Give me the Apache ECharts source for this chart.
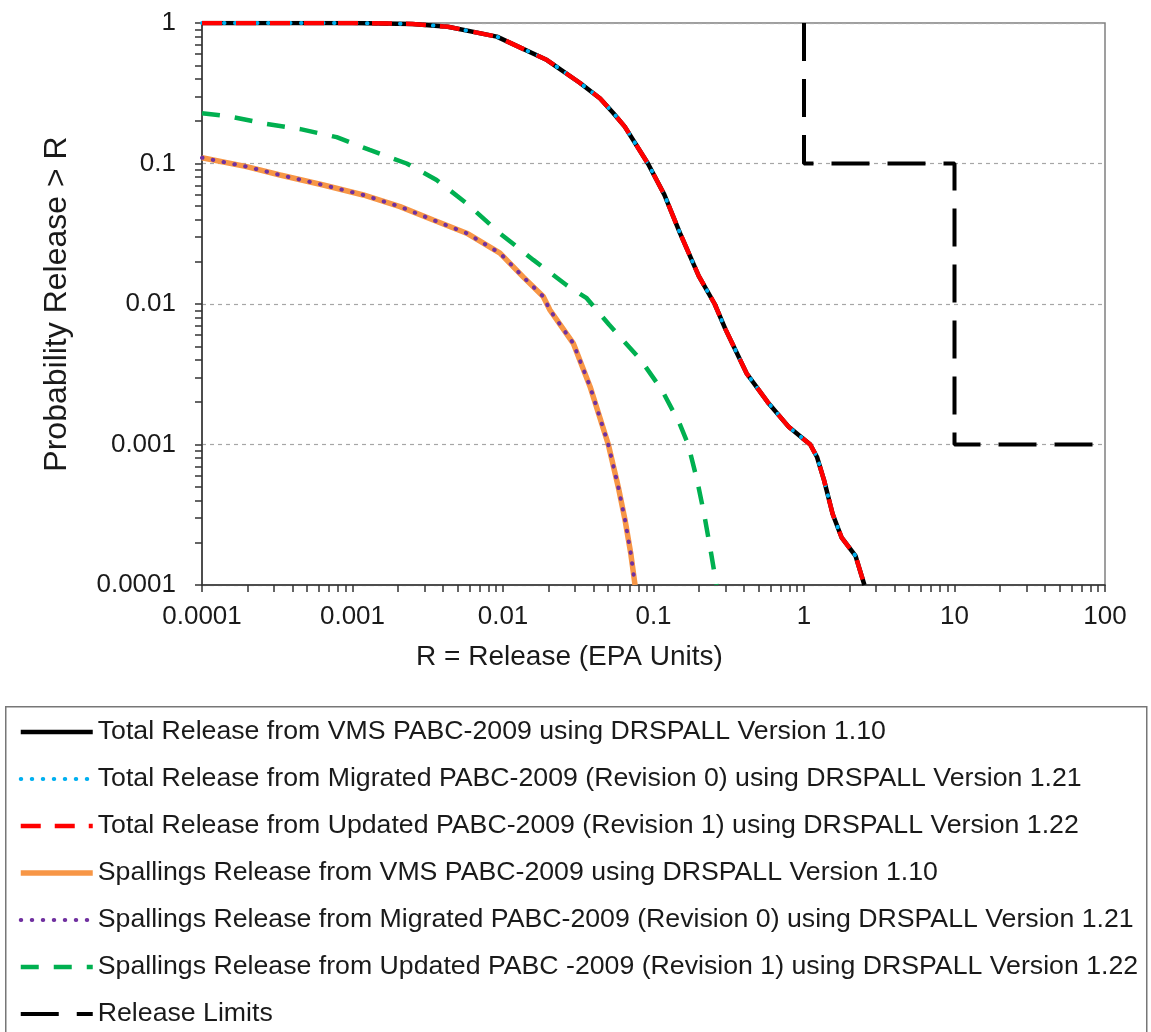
<!DOCTYPE html>
<html>
<head>
<meta charset="utf-8">
<script src="https://cdn.jsdelivr.net/npm/echarts@6/dist/echarts.min.js"></script>
<style>
html,body{margin:0;padding:0;background:#fff;}
#chart{width:1151px;height:1032px;}
</style>
</head>
<body>
<div id="chart"></div>
<script>
// ---- data ----
const totalX = [0.0001, 0.001, 0.0025, 0.0043, 0.0091, 0.0196, 0.0325, 0.0442, 0.054, 0.0644, 0.0918, 0.118, 0.15, 0.2, 0.255, 0.301, 0.416, 0.574, 0.794, 1.1, 1.22, 1.36, 1.55, 1.78, 2.2, 2.52];
const totalY = [1, 1, 0.985, 0.94, 0.80, 0.545, 0.374, 0.29, 0.229, 0.183, 0.1, 0.06, 0.032, 0.0158, 0.01, 0.0066, 0.0032, 0.002, 0.00133, 0.001, 0.000815, 0.000555, 0.00032, 0.000217, 0.000161, 0.0001];

const spallX = [0.0001, 0.000198, 0.00033, 0.00064, 0.00118, 0.00207, 0.00344, 0.00574, 0.00955, 0.0136, 0.0185, 0.0205, 0.0293, 0.0379, 0.0501, 0.0583, 0.0647, 0.0706, 0.0754];
const spallY = [0.11, 0.095, 0.0828, 0.0703, 0.0597, 0.0493, 0.0396, 0.0319, 0.023, 0.0156, 0.0113, 0.00906, 0.00525, 0.00258, 0.001, 0.0005, 0.00029, 0.000168, 0.0001];

const spallUpdX = [0.0001, 0.000153, 0.00027, 0.000459, 0.000785, 0.0013, 0.00229, 0.00362, 0.00574, 0.00955, 0.0159, 0.0265, 0.036, 0.0506, 0.0822, 0.1138, 0.149, 0.17, 0.195, 0.217, 0.242, 0.262];
const spallUpdY = [0.228, 0.216, 0.191, 0.175, 0.154, 0.125, 0.1, 0.0763, 0.052, 0.0318, 0.0206, 0.0136, 0.011, 0.00714, 0.004, 0.00244, 0.00141, 0.001, 0.000555, 0.00032, 0.000166, 0.0001];

const limitX = [1, 1, 10, 10, 100];
const limitY = [1, 0.1, 0.1, 0.001, 0.001];

const xTickLabels = ['0.0001', '0.001', '0.01', '0.1', '1', '10', '100'];
const yTickLabels = ['0.0001', '0.001', '0.01', '0.1', '1'];

const seriesNames = [
  'Total Release from VMS PABC-2009 using DRSPALL Version 1.10',
  'Total Release from Migrated PABC-2009 (Revision 0) using DRSPALL Version 1.21',
  'Total Release from Updated PABC-2009 (Revision 1) using DRSPALL Version 1.22',
  'Spallings Release from VMS PABC-2009 using DRSPALL Version 1.10',
  'Spallings Release from Migrated PABC-2009 (Revision 0) using DRSPALL Version 1.21',
  'Spallings Release from Updated PABC -2009 (Revision 1) using DRSPALL Version 1.22',
  'Release Limits'
];

// ---- helpers ----
function pairs(xs, ys) { return xs.map((x, i) => [x, ys[i]]); }
function logTickPositions(loExp, hiExp) {
  const out = [];
  for (let e = loExp; e < hiExp; e++) {
    for (let m = 1; m < 10; m++) out.push(Number((m * Math.pow(10, e)).toPrecision(4)));
  }
  out.push(Number(Math.pow(10, hiExp).toPrecision(4)));
  return out;
}
const FONT = "'Liberation Sans', Arial, sans-serif";
const TXT = '#1a1a1a';

const chart = echarts.init(document.getElementById('chart'), null, {renderer: 'canvas'});

function lineSeries(idx, data, style, z) {
  return {
    name: seriesNames[idx],
    type: 'line',
    data: data,
    symbol: 'none',
    showSymbol: false,
    smooth: false,
    z: z,
    lineStyle: style,
    emphasis: {disabled: true}
  };
}

const option = {
  animation: false,
  backgroundColor: '#fff',
  grid: {
    left: 202, top: 23, width: 903, height: 562,
    show: true, borderColor: '#808080', borderWidth: 1.5, backgroundColor: 'transparent'
  },
  xAxis: [
    {
      type: 'log', logBase: 10, min: 0.0001, max: 100,
      name: 'R = Release (EPA Units)', nameLocation: 'middle', nameGap: 58,
      nameTextStyle: {fontFamily: FONT, fontSize: 28, color: TXT, padding: [0, 168, 0, 0]},
      axisLine: {show: true, lineStyle: {color: '#333', width: 1.5}},
      axisTick: {show: false},
      axisLabel: {
        fontFamily: FONT, fontSize: 26, color: TXT, margin: 19,
        formatter: v => xTickLabels[Math.round(Math.log10(v)) + 4]
      },
      splitLine: {show: false}
    },
    {
      type: 'log', logBase: 10, min: 0.0001, max: 100, position: 'bottom',
      axisLine: {show: false},
      axisLabel: {show: false},
      splitLine: {show: false},
      axisTick: {show: true, inside: false, length: 7, customValues: logTickPositions(-4, 2),
                 lineStyle: {color: '#333', width: 1.5}}
    }
  ],
  yAxis: [
    {
      type: 'log', logBase: 10, min: 0.0001, max: 1,
      name: 'Probability Release > R', nameLocation: 'middle', nameGap: 129,
      nameTextStyle: {fontFamily: FONT, fontSize: 32, color: TXT},
      axisLine: {show: true, lineStyle: {color: '#333', width: 1.5}},
      axisTick: {show: false},
      axisLabel: {
        fontFamily: FONT, fontSize: 26, color: TXT, margin: 26,
        formatter: v => yTickLabels[Math.round(Math.log10(v)) + 4]
      },
      splitLine: {show: true, lineStyle: {color: '#a6a6a6', width: 1.2, type: [4, 4]}}
    },
    {
      type: 'log', logBase: 10, min: 0.0001, max: 1, position: 'left',
      axisLine: {show: false},
      axisLabel: {show: false},
      splitLine: {show: false},
      axisTick: {show: true, inside: false, length: 7, customValues: logTickPositions(-4, 0),
                 lineStyle: {color: '#333', width: 1.5}}
    }
  ],
  legend: {
    data: seriesNames,
    orient: 'vertical',
    left: 18, top: 717,
    padding: 0,
    itemWidth: 72, itemHeight: 30, itemGap: 17,
    selectedMode: false,
    textStyle: {fontFamily: FONT, fontSize: 26.7, color: TXT, lineHeight: 30},
    itemStyle: {opacity: 0},
    lineStyle: {width: 'inherit'}
  },
  graphic: [
    {
      type: 'rect', left: 5, top: 706, z: -1,
      shape: {x: 0, y: 0, width: 1141, height: 340},
      style: {fill: 'transparent', stroke: '#777', lineWidth: 1.5}
    }
  ],
  series: [
    lineSeries(0, pairs(totalX, totalY), {color: '#000000', width: 4.5, type: 'solid'}, 2),
    lineSeries(1, pairs(totalX, totalY), {color: '#00B0F0', width: 4, type: [0.5, 10.5], cap: 'round'}, 3),
    lineSeries(2, pairs(totalX, totalY), {color: '#FF0000', width: 4.5, type: [20, 14]}, 4),
    lineSeries(3, pairs(spallX, spallY), {color: '#F79646', width: 5.5, type: 'solid'}, 2),
    lineSeries(4, pairs(spallX, spallY), {color: '#7030A0', width: 4, type: [0.5, 10.5], cap: 'round'}, 3),
    lineSeries(5, pairs(spallUpdX, spallUpdY), {color: '#00B050', width: 4.5, type: [18, 15]}, 3),
    lineSeries(6, pairs(limitX, limitY), {color: '#000000', width: 4, type: [38, 18]}, 4)
  ]
};

chart.setOption(option);
</script>
</body>
</html>
